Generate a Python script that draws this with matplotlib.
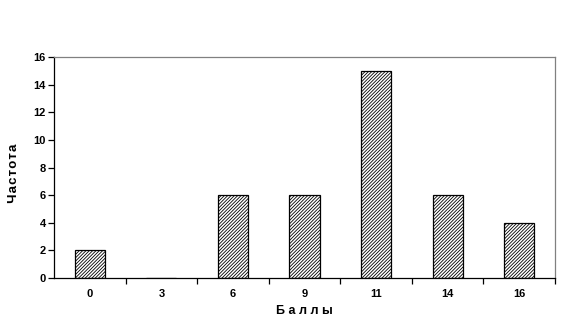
import matplotlib
matplotlib.use("Agg")
import matplotlib.pyplot as plt

# score categories and their frequencies
scores = ["0", "3", "6", "9", "11", "14", "16"]
freq = [2, 0, 6, 6, 15, 6, 4]
yticks = [0, 2, 4, 6, 8, 10, 12, 14, 16]

plt.rcParams["font.family"] = ["Liberation Sans", "DejaVu Sans"]
plt.rcParams["hatch.linewidth"] = 0.6

fig = plt.figure(figsize=(5.63, 3.28), dpi=100)
ax = fig.add_axes([0.0959, 0.1524, 0.8899, 0.6738])

x = list(range(len(scores)))
ax.bar(x, freq, width=0.42, color="white", edgecolor="black",
       linewidth=0.9, hatch="//////////", zorder=2)

ax.set_xlim(-0.5, len(scores) - 0.5)
ax.set_ylim(0, 16)
ax.set_yticks(yticks)
ax.set_yticklabels([str(v) for v in yticks], fontsize=8, fontweight="bold")
ax.set_xticks(x)
ax.set_xticklabels(scores, fontsize=8, fontweight="bold")
ax.tick_params(axis="x", length=0, pad=8)
ax.set_xticks([i + 0.5 for i in x], minor=True)
ax.tick_params(axis="x", which="minor", length=4, width=0.9, direction="out")
ax.tick_params(axis="y", length=4, width=0.9, direction="out", pad=2)

for s in ["left", "bottom"]:
    ax.spines[s].set_color("black")
    ax.spines[s].set_linewidth(0.9)
for s in ["top", "right"]:
    ax.spines[s].set_color("#808080")
    ax.spines[s].set_linewidth(0.9)

ax.set_xlabel("Б а л л ы", fontsize=9, fontweight="bold", labelpad=4)
ax.set_ylabel("\u200aЧ\u200aа\u200aс\u200aт\u200aо\u200aт\u200aа", fontsize=9.5,
              fontweight="bold")
ax.yaxis.set_label_coords(-0.068, 0.47)

fig.savefig("out.png", dpi=100)
